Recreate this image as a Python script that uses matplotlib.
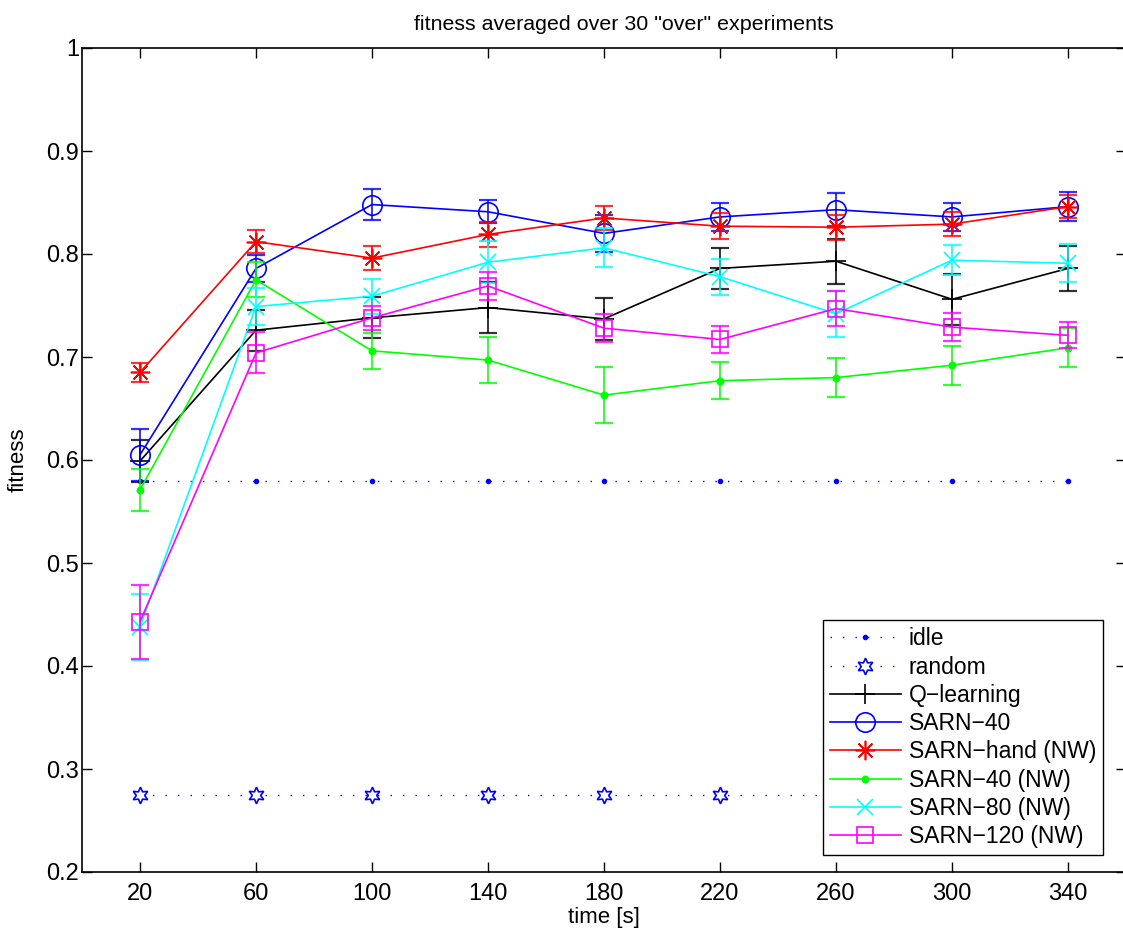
import matplotlib
matplotlib.use("Agg")
import matplotlib.pyplot as plt

plt.rcParams['font.family'] = ['Liberation Sans', 'DejaVu Sans']

# time points [s]
times = [20, 60, 100, 140, 180, 220, 260, 300, 340]

idle_level = 0.58
random_level = 0.275

q_mean = [0.599, 0.726, 0.738, 0.748, 0.737, 0.786, 0.793, 0.756, 0.786]
q_err = [0.020, 0.020, 0.020, 0.025, 0.0205, 0.020, 0.022, 0.025, 0.022]

sarn40_mean = [0.605, 0.786, 0.848, 0.841, 0.820, 0.836, 0.843, 0.836, 0.846]
sarn40_err = [0.025, 0.0135, 0.015, 0.011, 0.018, 0.014, 0.016, 0.014, 0.014]

hand_mean = [0.685, 0.812, 0.796, 0.819, 0.835, 0.827, 0.826, 0.829, 0.846]
hand_err = [0.0095, 0.011, 0.0115, 0.012, 0.012, 0.0125, 0.012, 0.0115, 0.011]

sarn40nw_mean = [0.571, 0.775, 0.706, 0.697, 0.663, 0.677, 0.680, 0.692, 0.709]
sarn40nw_err = [0.0205, 0.017, 0.0175, 0.022, 0.0275, 0.018, 0.019, 0.019, 0.019]

sarn80nw_mean = [0.438, 0.749, 0.759, 0.792, 0.806, 0.778, 0.742, 0.794, 0.791]
sarn80nw_err = [0.032, 0.018, 0.017, 0.0205, 0.019, 0.0175, 0.0225, 0.0145, 0.0185]

sarn120nw_mean = [0.443, 0.704, 0.738, 0.769, 0.728, 0.717, 0.747, 0.729, 0.721]
sarn120nw_err = [0.036, 0.020, 0.012, 0.014, 0.0135, 0.0135, 0.017, 0.0135, 0.0125]

y_ticks = [0.2, 0.3, 0.4, 0.5, 0.6, 0.7, 0.8, 0.9, 1.0]
y_tick_labels = ['0.2', '0.3', '0.4', '0.5', '0.6', '0.7', '0.8', '0.9', '1']

fig = plt.figure(figsize=(11.23, 9.32), dpi=100)
ax = fig.add_axes([82 / 1123, 60 / 932, 1044 / 1123, 824 / 932])

TICK_FS = 17
LEG_FS = 16.5
TITLE_FS = 15.4
dots = (0, (1, 8))

handles = []
h, = ax.plot(times, [idle_level] * len(times), color='blue', linestyle=dots,
             linewidth=1, marker='.', markersize=6, label='idle')
handles.append(h)
h, = ax.plot(times, [random_level] * len(times), color='blue', linestyle=dots,
             linewidth=1, marker=(6, 1, 0), markersize=12, markerfacecolor='white',
             markeredgecolor='blue', markeredgewidth=1.2, label='random')
handles.append(h)

series = [
    (q_mean, q_err, 'black', '+', 14, 'none', 'Q\u2212learning'),
    (sarn40_mean, sarn40_err, 'blue', 'o', 14, 'none', 'SARN\u221240'),
    (hand_mean, hand_err, 'red', (8, 2, 0), 14, 'none', 'SARN\u2212hand (NW)'),
    (sarn40nw_mean, sarn40nw_err, '#00ff00', '.', 9, '#00ff00', 'SARN\u221240 (NW)'),
    (sarn80nw_mean, sarn80nw_err, 'cyan', 'x', 12, 'none', 'SARN\u221280 (NW)'),
    (sarn120nw_mean, sarn120nw_err, 'magenta', 's', 12, 'none', 'SARN\u2212120 (NW)'),
]

for mean, err, col, mk, ms, mfc, lab in series:
    ax.errorbar(times, mean, yerr=err, fmt='none', ecolor=col, elinewidth=1.4,
                capsize=6.5, capthick=1.6, alpha=0.8)
    h, = ax.plot(times, mean, color=col, linewidth=1.2, marker=mk, markersize=ms,
                 markerfacecolor=mfc, markeredgecolor=col, markeredgewidth=1.2,
                 label=lab)
    handles.append(h)

ax.set_xlim(0, 360)
ax.set_ylim(0.2, 1.0)
ax.set_xticks(times)
ax.set_xticklabels([str(t) for t in times])
ax.set_yticks(y_ticks)
ax.set_yticklabels(y_tick_labels)
ax.tick_params(direction='in', length=7, width=1, labelsize=TICK_FS, top=True,
               right=True)
ax.tick_params(axis='x', pad=8)
ax.tick_params(axis='y', pad=2)
for sp in ax.spines.values():
    sp.set_linewidth(1.2)

ax.set_xlabel('time [s]', fontsize=TITLE_FS + 0.6, labelpad=1)
ax.set_ylabel('fitness', fontsize=TITLE_FS + 0.6, labelpad=13)
ax.set_title('fitness averaged over 30 "over" experiments', fontsize=TITLE_FS,
             pad=13, x=0.519)

leg = ax.legend(handles=handles, loc='lower right', bbox_to_anchor=(0.978, 0.0206),
                borderaxespad=0, fontsize=LEG_FS, frameon=True, fancybox=False,
                edgecolor='black', framealpha=1, handlelength=3.1,
                labelspacing=0.23, borderpad=0.3, handletextpad=0.35)
leg.get_frame().set_linewidth(1.0)

fig.savefig('out.png', dpi=100)
